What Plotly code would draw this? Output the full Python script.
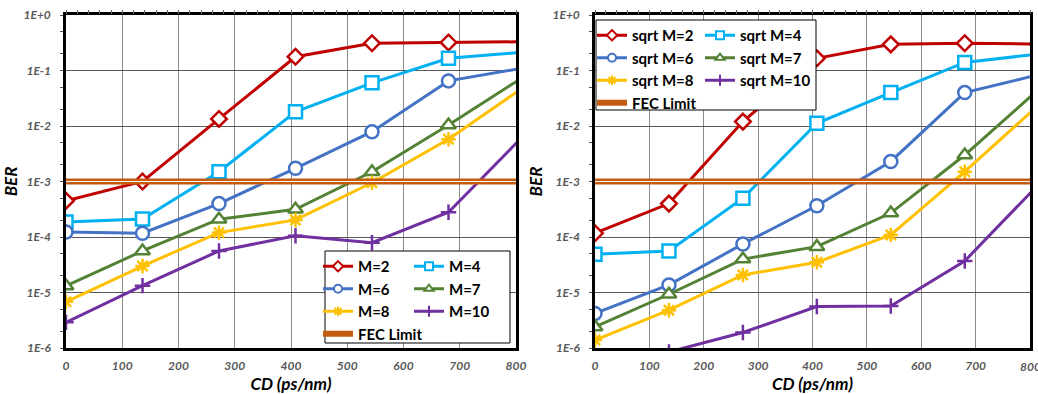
import plotly.graph_objects as go

# Chromatic dispersion (ps/nm) sample points
cd = [0, 136, 272, 408, 544, 680, 816]

# BER, standard modulation
ber_m2 = [4.5e-4, 1.0e-3, 1.34e-2, 0.177, 0.31, 0.32, 0.33]
ber_m4 = [1.86e-4, 2.1e-4, 1.5e-3, 1.8e-2, 6.0e-2, 0.166, 0.215]
ber_m6 = [1.23e-4, 1.17e-4, 4.0e-4, 1.73e-3, 7.9e-3, 6.5e-2, 0.112]
ber_m7 = [1.31e-5, 5.6e-5, 2.09e-4, 3.16e-4, 1.5e-3, 1.04e-2, 0.08]
ber_m8 = [6.8e-6, 3.0e-5, 1.2e-4, 2.03e-4, 9.5e-4, 5.75e-3, 0.052]
ber_m10 = [2.9e-6, 1.33e-5, 5.6e-5, 1.05e-4, 7.9e-5, 2.8e-4, 7.1e-3]

# BER, sqrt variant
ber_s2 = [1.17e-4, 4.0e-4, 1.2e-2, 0.166, 0.296, 0.31, 0.30]
ber_s4 = [4.9e-5, 5.6e-5, 5.0e-4, 1.12e-2, 4.0e-2, 0.14, 0.198]
ber_s6 = [4.2e-6, 1.37e-5, 7.5e-5, 3.66e-4, 2.3e-3, 4.0e-2, 0.084]
ber_s7 = [2.4e-6, 9.3e-6, 4.0e-5, 6.7e-5, 2.7e-4, 3.0e-3, 0.046]
ber_s8 = [1.39e-6, 4.8e-6, 2.07e-5, 3.5e-5, 1.09e-4, 1.5e-3, 0.024]
ber_s10 = [3e-7, 8.5e-7, 1.9e-6, 5.6e-6, 5.7e-6, 3.7e-5, 8.9e-4]

fec_limit = 1e-3
x_span = [0, 800]

labels_left = ["M=2", "M=4", "M=6", "M=7", "M=8", "M=10"]
labels_right = ["sqrt M=2", "sqrt M=4", "sqrt M=6", "sqrt M=7", "sqrt M=8", "sqrt M=10"]

y_tickvals = [1e-6, 1e-5, 1e-4, 1e-3, 1e-2, 1e-1, 1]
y_ticktext = ["1E-6", "1E-5", "1E-4", "1E-3", "1E-2", "1E-1", "1E+0"]
x_tickvals = [0, 100, 200, 300, 400, 500, 600, 700, 800]

colors = ["#C00000", "#00B0F0", "#4472C4", "#548235", "#FFC000", "#7030A0"]
symbols = ["diamond", "square", "circle", "triangle-up", "asterisk-open", "cross-thin-open"]
sizes = [12, 13, 13, 13, 12, 11]
fec_color = "#C55A11"

FONT = "Lato"

fig = go.Figure()

# legend column assignment: left column / right column
col_of = [0, 1, 0, 1, 0, 1]


def marker_style(i, size, lw=2.5):
    fill = colors[i] if symbols[i].endswith("-open") else "white"
    return dict(symbol=symbols[i], size=size, color=fill,
                line=dict(color=colors[i], width=lw))


def add_panel(series, labels, xa, ya, legs):
    for i, (vals, name) in enumerate(zip(series, labels)):
        fig.add_trace(go.Scatter(
            x=cd, y=vals, name=name, mode="lines+markers", showlegend=False,
            xaxis=xa, yaxis=ya,
            line=dict(color=colors[i], width=3),
            marker=marker_style(i, sizes[i]),
        ))
    # FEC limit: thick double line (outer band + thin white core)
    fig.add_trace(go.Scatter(
        x=x_span, y=[fec_limit, fec_limit], name="FEC Limit", mode="lines",
        xaxis=xa, yaxis=ya, showlegend=False,
        line=dict(color=fec_color, width=6),
    ))
    fig.add_trace(go.Scatter(
        x=x_span, y=[fec_limit, fec_limit], mode="lines", showlegend=False,
        xaxis=xa, yaxis=ya, hoverinfo="skip",
        line=dict(color="white", width=1.2),
    ))
    # legend entries with compact symbols
    for i, name in enumerate(labels):
        fig.add_trace(go.Scatter(
            x=[None], y=[None], name=name, mode="lines+markers",
            xaxis=xa, yaxis=ya, legend=legs[col_of[i]],
            line=dict(color=colors[i], width=3),
            marker=marker_style(i, 8, 2),
        ))
    fig.add_trace(go.Scatter(
        x=[None], y=[None], name="FEC Limit", mode="lines",
        xaxis=xa, yaxis=ya, legend=legs[0],
        line=dict(color=fec_color, width=6),
    ))


add_panel([ber_m2, ber_m4, ber_m6, ber_m7, ber_m8, ber_m10], labels_left,
          "x", "y", ["legend", "legend2"])
add_panel([ber_s2, ber_s4, ber_s6, ber_s7, ber_s8, ber_s10], labels_right,
          "x2", "y2", ["legend3", "legend4"])

# carriers for the top-edge minor tick rows
fig.add_trace(go.Scatter(x=[None], y=[None], xaxis="x3", yaxis="y", showlegend=False))
fig.add_trace(go.Scatter(x=[None], y=[None], xaxis="x4", yaxis="y2", showlegend=False))

W, H = 1038, 394
left_dom = [66 / W, 516 / W]
right_dom = [595 / W, 1030 / W]
y_dom = [1 - 348 / H, 1 - 15 / H]

tick_font = dict(family=FONT, size=12, color="#595959", style="italic", weight="bold")
title_font = dict(family=FONT, size=17, color="black", style="italic", weight="bold")


def xaxis_cfg(dom, anchor):
    return dict(
        domain=dom, anchor=anchor, range=x_span, tickvals=x_tickvals,
        showgrid=True, gridcolor="#8c8c8c", gridwidth=1,
        showline=True, linecolor="black", linewidth=2.5, mirror=True,
        ticks="", tickfont=tick_font, ticklabelstandoff=5,
        title=dict(text="CD (ps/nm)", font=title_font, standoff=2),
        zeroline=False, automargin=False,
    )


def top_axis_cfg(over, anchor):
    return dict(
        overlaying=over, anchor=anchor, side="top", range=x_span,
        showgrid=False, showline=False, showticklabels=False, zeroline=False,
        ticks="outside", ticklen=4, dtick=20, tickcolor="#666", tickwidth=1,
        automargin=False,
    )


def yaxis_cfg(anchor):
    return dict(
        domain=y_dom, anchor=anchor, type="log", range=[-6, 0],
        tickvals=y_tickvals, ticktext=y_ticktext,
        showgrid=True, gridcolor="#595959", gridwidth=1,
        showline=True, linecolor="black", linewidth=2.5, mirror=True,
        ticks="", tickfont=tick_font, ticklabelstandoff=10,
        minor=dict(ticks="outside", ticklen=3, tickcolor="#555", showgrid=False),
        title=dict(text="BER", font=title_font, standoff=6),
        zeroline=False, automargin=False,
    )


leg_font = dict(family=FONT, size=15, color="black", weight="bold")


def leg(xp, yp):
    return dict(x=xp / W, y=1 - yp / H, xanchor="left", yanchor="top",
                bgcolor="rgba(0,0,0,0)", borderwidth=0, font=leg_font,
                tracegroupgap=0, itemwidth=30, traceorder="normal")


fig.update_layout(
    width=W, height=H, margin=dict(l=0, r=0, t=0, b=0),
    paper_bgcolor="white", plot_bgcolor="white",
    xaxis=xaxis_cfg(left_dom, "y"), yaxis=yaxis_cfg("x"),
    xaxis2=xaxis_cfg(right_dom, "y2"), yaxis2=yaxis_cfg("x2"),
    xaxis3=top_axis_cfg("x", "y"), xaxis4=top_axis_cfg("x2", "y2"),
    legend=leg(318, 250), legend2=leg(409, 250),
    legend3=leg(592, 19), legend4=leg(700, 19),
    shapes=[
        dict(type="rect", xref="paper", yref="paper",
             x0=325 / W, x1=510 / W, y0=1 - 343 / H, y1=1 - 251 / H,
             line=dict(color="black", width=1), fillcolor="white", layer="above"),
        dict(type="rect", xref="paper", yref="paper",
             x0=596 / W, x1=816 / W, y0=1 - 110 / H, y1=1 - 20 / H,
             line=dict(color="black", width=1), fillcolor="white", layer="above"),
    ],
    annotations=[
        # last tick label on the right panel runs past the page edge
        dict(text="800", x=x_tickvals[-1], xref="x2", y=1 - 366 / H, yref="paper",
             xanchor="center", yanchor="middle", showarrow=False, font=tick_font),
    ],
    showlegend=True,
)

fig.write_html("out.html")
